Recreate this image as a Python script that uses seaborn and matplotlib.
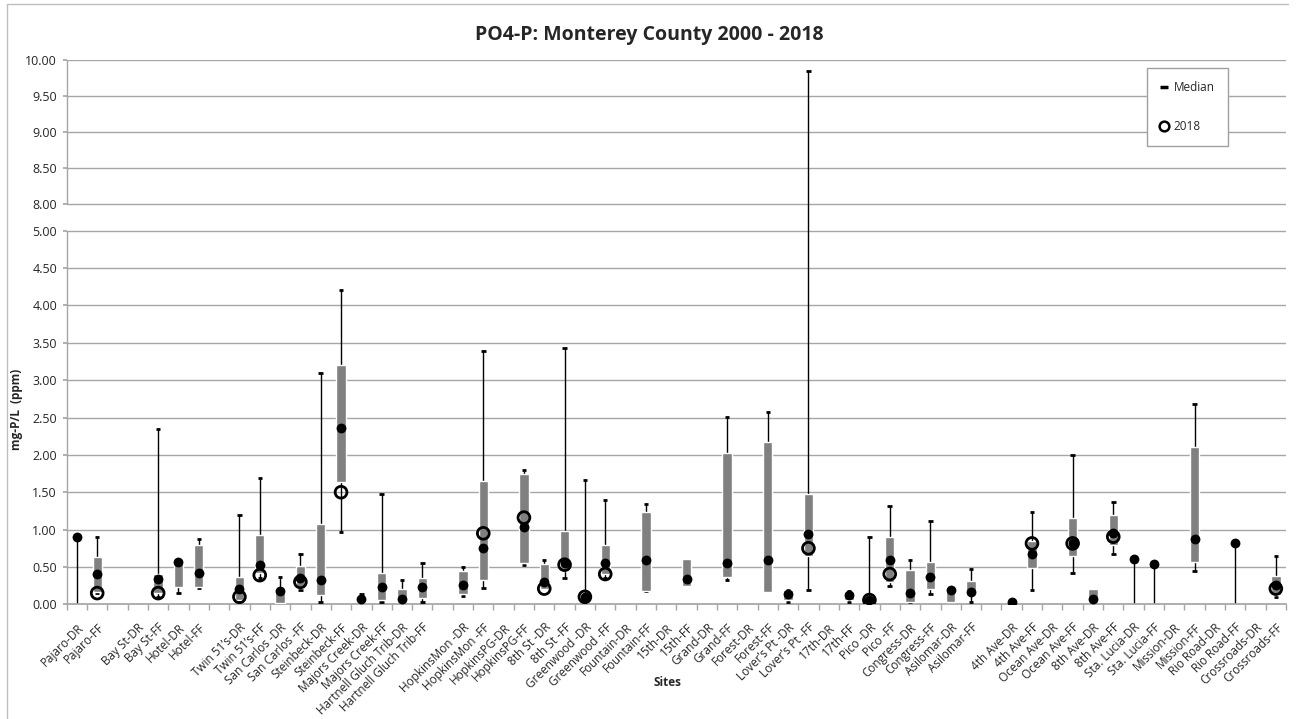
import numpy as np
import pandas as pd
import matplotlib
matplotlib.use("Agg")
import matplotlib.pyplot as plt
from matplotlib.lines import Line2D
import seaborn as sns

# ---------------- data ----------------
sites = ["Pajaro-DR", "Pajaro-FF", "", "Bay St-DR", "Bay St-FF", "Hotel-DR", "Hotel-FF", "",
         "Twin 51\u2019s-DR", "Twin 51\u2019s-FF", "San Carlos -DR", "San Carlos -FF",
         "Steinbeck-DR", "Steinbeck-FF", "Majors Creek-DR", "Majors Creek-FF",
         "Hartnell Gluch Trib-DR", "Hartnell Gluch Trib-FF", "",
         "HopkinsMon -DR", "HopkinsMon -FF", "HopkinsPG-DR", "HopkinsPG-FF",
         "8th St -DR", "8th St -FF", "Greenwood -DR", "Greenwood -FF",
         "Fountain-DR", "Fountain-FF", "15th-DR", "15th-FF", "Grand-DR", "Grand-FF",
         "Forest-DR", "Forest-FF", "Lover\u2019s Pt -DR", "Lover\u2019s Pt -FF",
         "17th-DR", "17th-FF", "Pico -DR", "Pico -FF", "Congress-DR", "Congress-FF",
         "Asilomar-DR", "Asilomar-FF", "",
         "4th Ave-DR", "4th Ave-FF", "Ocean Ave-DR", "Ocean Ave-FF", "8th Ave-DR", "8th Ave-FF",
         "Sta. Lucia-DR", "Sta. Lucia-FF", "Mission-DR", "Mission-FF",
         "Rio Road-DR", "Rio Road-FF", "Crossroads-DR", "Crossroads-FF"]

n = np.nan
whisker_low = [0, 0.15, n, n, 0.10, 0.15, 0.22, n,
               0.04, 0.35, n, 0.19, 0.035, 0.97, n, 0.035, 0.03, 0.035, n,
               0.11, 0.22, n, 0.52, n, 0.35, 0.05, 0.35, n, 0.18, n, n, n, 0.33,
               n, n, 0.035, 0.19, n, 0.035, 0.02, 0.25, 0.035, 0.14, n, 0.035, n,
               n, 0.19, n, 0.415, n, 0.67, 0, 0, n, 0.44, n, 0, n, 0.10]
box_low = [n, 0.17, n, n, 0.15, 0.23, 0.23, n,
           0.06, 0.42, 0.02, 0.22, 0.12, 1.64, 0.03, 0.06, 0.04, 0.08, n,
           0.14, 0.325, n, 0.557, 0.20, 0.45, n, 0.40, n, 0.18, n, 0.24, n, 0.37,
           n, 0.17, 0.06, 0.64, n, 0.06, n, 0.30, 0.035, 0.21, 0.035, 0.125, n,
           n, 0.48, n, 0.65, 0.06, 0.79, n, n, n, 0.56, n, n, n, 0.13]
box_high = [n, 0.63, n, n, 0.41, 0.60, 0.79, n,
            0.36, 0.93, 0.20, 0.51, 1.08, 3.20, 0.09, 0.42, 0.21, 0.35, n,
            0.45, 1.65, n, 1.74, 0.54, 0.98, n, 0.80, n, 1.23, n, 0.60, n, 2.02,
            n, 2.17, 0.19, 1.48, n, 0.16, n, 0.90, 0.46, 0.57, 0.20, 0.31, n,
            n, 0.85, n, 1.15, 0.20, 1.20, n, n, n, 2.10, n, n, n, 0.38]
whisker_high = [0.90, 0.90, n, n, 2.35, n, 0.88, n,
                1.20, 1.69, 0.36, 0.67, 3.10, 4.21, 0.14, 1.48, 0.325, 0.55, n,
                0.50, 3.39, n, 1.80, 0.59, 3.43, 1.67, 1.40, n, 1.34, n, n, n, 2.51,
                n, 2.57, 0.19, 9.85, n, 0.18, 0.905, 1.31, 0.59, 1.11, n, 0.47, n,
                n, 1.24, n, 2.00, n, 1.37, 0.607, 0.54, n, 2.68, n, 0.815, n, 0.65]
median = [0.90, 0.41, n, n, 0.34, 0.56, 0.42, n,
          0.21, 0.53, 0.18, 0.35, 0.325, 2.36, 0.07, 0.23, 0.07, 0.23, n,
          0.26, 0.75, n, 1.03, 0.30, 0.55, 0.10, 0.55, n, 0.59, n, 0.34, n, 0.55,
          n, 0.59, 0.14, 0.94, n, 0.12, 0.057, 0.59, 0.15, 0.37, 0.19, 0.16, n,
          0.035, 0.67, n, 0.815, 0.07, 0.96, 0.607, 0.54, n, 0.875, n, 0.815, n, 0.26]
value_2018 = [n, 0.15, n, n, 0.15, n, n, n,
              0.10, 0.39, n, 0.30, n, 1.50, n, n, n, n, n,
              n, 0.95, n, 1.16, 0.21, 0.53, 0.10, 0.405, n, n, n, n, n, n,
              n, n, n, 0.75, n, n, 0.057, 0.405, n, n, n, n, n,
              n, 0.815, n, 0.815, n, 0.905, n, n, n, n, n, n, n, 0.21]

df = pd.DataFrame({"site": sites, "pos": np.arange(len(sites)),
                   "wlo": whisker_low, "q1": box_low, "q3": box_high,
                   "whi": whisker_high, "med": median, "y2018": value_2018})

# ---------------- style ----------------
sns.set_theme(style="white")
plt.rcParams["font.family"] = ["Open Sans", "DejaVu Sans"]

W, H = 1299, 719
fig = plt.figure(figsize=(W / 100, H / 100), dpi=100)
x0, x1, ytop, ybot = 66.7, 1286, 60, 604.3
ax = fig.add_axes([x0 / W, 1 - ybot / H, (x1 - x0) / W, (ybot - ytop) / H])

# broken axis: 0-5 linear, 5-8 compressed, 8-10 linear
G, K = 0.357, 0.964
def fwd(y):
    y = np.asarray(y, float)
    return np.where(y <= 5, y, np.where(y >= 8, 5 + G + (y - 8) * K, 5 + (y - 5) * G / 3))
def inv(t):
    t = np.asarray(t, float)
    return np.where(t <= 5, t, np.where(t >= 5 + G, 8 + (t - 5 - G) / K, 5 + (t - 5) * 3 / G))
ax.set_yscale("function", functions=(fwd, inv))

grid_c = "#a6a6a6"
box_c = "#808080"

# whiskers
wd = df.dropna(subset=["wlo", "whi"])
ax.vlines(wd["pos"], wd["wlo"], wd["whi"], color="black", lw=1.0, zorder=2)
wd2 = df[df["wlo"].isna() & df["whi"].notna() & df["q3"].notna()]
ax.vlines(wd2["pos"], wd2["q3"], wd2["whi"], color="black", lw=1.0, zorder=2)
wd3 = df[df["whi"].isna() & df["wlo"].notna() & df["q1"].notna()]
ax.vlines(wd3["pos"], wd3["wlo"], wd3["q1"], color="black", lw=1.0, zorder=2)
# caps
cap_hi = df[df["whi"] > 0]
ax.hlines(cap_hi["whi"], cap_hi["pos"] - 0.11, cap_hi["pos"] + 0.11, color="black", lw=2, zorder=3)
cap_lo = df[df["wlo"] > 0]
ax.hlines(cap_lo["wlo"], cap_lo["pos"] - 0.11, cap_lo["pos"] + 0.11, color="black", lw=2, zorder=3)

# boxes
bd = df.dropna(subset=["q1", "q3"])
ax.bar(bd["pos"], bd["q3"] - bd["q1"], bottom=bd["q1"], width=0.46, color=box_c, zorder=3)

# medians (filled dots) and 2018 (open circles)
sns.scatterplot(data=df.dropna(subset=["med"]), x="pos", y="med", ax=ax, color="black",
                s=50, edgecolor="black", linewidth=0, zorder=4, legend=False)
sns.scatterplot(data=df.dropna(subset=["y2018"]), x="pos", y="y2018", ax=ax,
                s=72, facecolors="none", edgecolors="black", linewidth=2.0, zorder=5, legend=False)

ax.set_xlim(-0.5, len(sites) - 0.5)
ax.set_ylim(0, 10)
yt = list(np.arange(0, 5.01, 0.5)) + list(np.arange(8, 10.01, 0.5))
ax.set_yticks(yt)
ax.set_yticklabels([f"{v:.2f}" for v in yt], fontsize=9)
ax.yaxis.grid(True, color=grid_c, lw=1.0)
ax.xaxis.grid(False)
ax.set_axisbelow(True)
ax.tick_params(axis="y", length=3, color=grid_c, pad=4, left=True)

ax.set_xticks(np.arange(len(sites)))
ax.set_xticklabels(sites, rotation=45, ha="right", rotation_mode="anchor", fontsize=8.5)
ax.set_xticks(np.arange(-0.5, len(sites), 1), minor=True)
ax.tick_params(axis="x", which="major", length=0, pad=12)
ax.tick_params(axis="x", which="minor", length=4, color=grid_c, bottom=True)
for s in ["top", "right", "left"]:
    ax.spines[s].set_visible(False)
ax.spines["bottom"].set_color(grid_c)
ax.set_xlabel("")
ax.set_ylabel("")
# broken left axis line
ax.plot([-0.5, -0.5], [0, 5], color=grid_c, lw=1, clip_on=False, zorder=1)
ax.plot([-0.5, -0.5], [8, 10], color=grid_c, lw=1, clip_on=False, zorder=1)

# texts
fig.text(0.5, 1 - 35 / H, "PO4-P: Monterey County 2000 - 2018", ha="center", va="center",
         fontsize=14, fontweight="bold")
fig.text(668 / W, 1 - 683 / H, "Sites", ha="center", va="center", fontsize=8.5, fontweight="bold")
fig.text(17 / W, 1 - 409 / H, "mg-P/L  (ppm)", ha="center", va="center", rotation=90,
         fontsize=8.5, fontweight="bold")

# legend
handles = [Line2D([], [], marker="_", color="black", ls="none", markersize=6, mew=2.5),
           Line2D([], [], marker="o", mfc="none", mec="black", ls="none", markersize=7, mew=1.8)]
leg = fig.legend(handles, ["Median", "2018"], loc="upper left",
                 bbox_to_anchor=(1146.7 / W, 1 - 68.3 / H), bbox_transform=fig.transFigure,
                 frameon=True, fancybox=False, edgecolor="#a0a0a0", framealpha=1,
                 fontsize=8.5, labelspacing=2.2, borderpad=1.1, handlelength=0.8,
                 handletextpad=0.4, borderaxespad=0)
leg.get_frame().set_linewidth(1.0)

# chart border
fig.add_artist(Line2D([7 / W, 7 / W], [0, 1 - 4 / H], transform=fig.transFigure, color="#bfbfbf", lw=1))
fig.add_artist(Line2D([7 / W, 1288 / W], [1 - 4 / H, 1 - 4 / H], transform=fig.transFigure, color="#bfbfbf", lw=1))

fig.savefig("out.png", dpi=100)
